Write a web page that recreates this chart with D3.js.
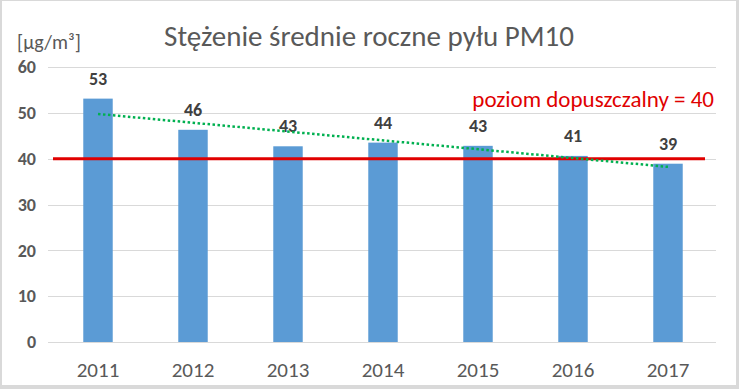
<!DOCTYPE html>
<html>
<head>
<meta charset="utf-8">
<script src="https://cdn.jsdelivr.net/npm/d3@7"></script>
<style>
  body { margin: 0; background: #fff; }
  svg { display: block; }
</style>
</head>
<body>
<div id="chart"></div>
<script>
const years = ['2011', '2012', '2013', '2014', '2015', '2016', '2017'];
const values = [53.1, 46.3, 42.7, 43.5, 42.8, 40.6, 38.9];
const yTicks = [0, 10, 20, 30, 40, 50, 60];
const limitValue = 40;
const limitLabel = 'poziom dopuszczalny = 40';
const title = 'Stężenie średnie roczne pyłu PM10';
const unitLabel = '[µg/m³]';

const width = 739, height = 389;
const font = 'Calibri, Carlito, "Open Sans", sans-serif';

const svg = d3.select('#chart').append('svg')
    .attr('width', width)
    .attr('height', height);

// background + outer border
svg.append('rect')
    .attr('width', width).attr('height', height)
    .attr('fill', '#d9d9d9');
svg.append('rect')
    .attr('x', 2).attr('y', 1)
    .attr('width', width - 5).attr('height', height - 5)
    .attr('fill', '#fff');

const x = d3.scaleBand()
    .domain(years)
    .range([50.5, 715.5])
    .paddingInner(0.69)
    .paddingOuter(0.345);

const y = d3.scaleLinear()
    .domain([0, 60])
    .range([342, 67]);

// gridlines
svg.append('g')
    .selectAll('line')
    .data(yTicks)
    .join('line')
    .attr('x1', 48)
    .attr('x2', 716)
    .attr('y1', d => Math.round(y(d)) + 0.5)
    .attr('y2', d => Math.round(y(d)) + 0.5)
    .attr('stroke', '#d9d9d9')
    .attr('stroke-width', 1);

// y tick labels
svg.append('g')
    .selectAll('text')
    .data(yTicks)
    .join('text')
    .attr('x', 36)
    .attr('y', d => y(d))
    .attr('dy', '0.35em')
    .attr('text-anchor', 'end')
    .attr('font-family', font)
    .attr('font-weight', 'bold')
    .attr('font-size', 18)
    .attr('fill', '#595959')
    .text(d => d);

// x tick labels
svg.append('g')
    .selectAll('text')
    .data(years)
    .join('text')
    .attr('x', d => x(d) + x.bandwidth() / 2)
    .attr('y', 377)
    .attr('text-anchor', 'middle')
    .attr('font-family', font)
    .attr('font-size', 21)
    .attr('fill', '#595959')
    .text(d => d);

// bars
svg.append('g')
    .selectAll('rect')
    .data(values)
    .join('rect')
    .attr('x', (d, i) => x(years[i]))
    .attr('y', d => y(d))
    .attr('width', x.bandwidth())
    .attr('height', d => y(0) - y(d))
    .attr('fill', '#5b9bd5');

// value labels
svg.append('g')
    .selectAll('text')
    .data(values)
    .join('text')
    .attr('x', (d, i) => x(years[i]) + x.bandwidth() / 2)
    .attr('y', d => y(d) - 14)
    .attr('text-anchor', 'middle')
    .attr('font-family', font)
    .attr('font-weight', 'bold')
    .attr('font-size', 18)
    .attr('fill', '#404040')
    .text(d => d3.format('.0f')(d));

// limit line
svg.append('line')
    .attr('x1', 53)
    .attr('x2', 705)
    .attr('y1', y(limitValue))
    .attr('y2', y(limitValue))
    .attr('stroke', '#e00000')
    .attr('stroke-width', 3);

svg.append('text')
    .attr('x', 714)
    .attr('y', 107)
    .attr('text-anchor', 'end')
    .attr('font-family', font)
    .attr('font-size', 23)
    .attr('fill', '#e00000')
    .text(limitLabel);

// linear trendline
const idx = values.map((d, i) => i);
const mx = d3.mean(idx), my = d3.mean(values);
const slope = d3.sum(idx, i => (i - mx) * (values[i] - my)) / d3.sum(idx, i => (i - mx) ** 2);
const intercept = my - slope * mx;
const trend = [0, values.length - 1].map(i => [x(years[i]) + x.bandwidth() / 2, y(intercept + slope * i)]);

svg.append('path')
    .attr('d', d3.line()(trend))
    .attr('fill', 'none')
    .attr('stroke', '#00b050')
    .attr('stroke-width', 2.5)
    .attr('stroke-dasharray', '2.5 2.5');

// title and unit
svg.append('text')
    .attr('x', 369)
    .attr('y', 46)
    .attr('text-anchor', 'middle')
    .attr('font-family', font)
    .attr('font-size', 29)
    .attr('fill', '#595959')
    .text(title);

svg.append('text')
    .attr('x', 17)
    .attr('y', 49)
    .attr('font-family', font)
    .attr('font-size', 20)
    .attr('fill', '#595959')
    .text(unitLabel);
</script>
</body>
</html>
